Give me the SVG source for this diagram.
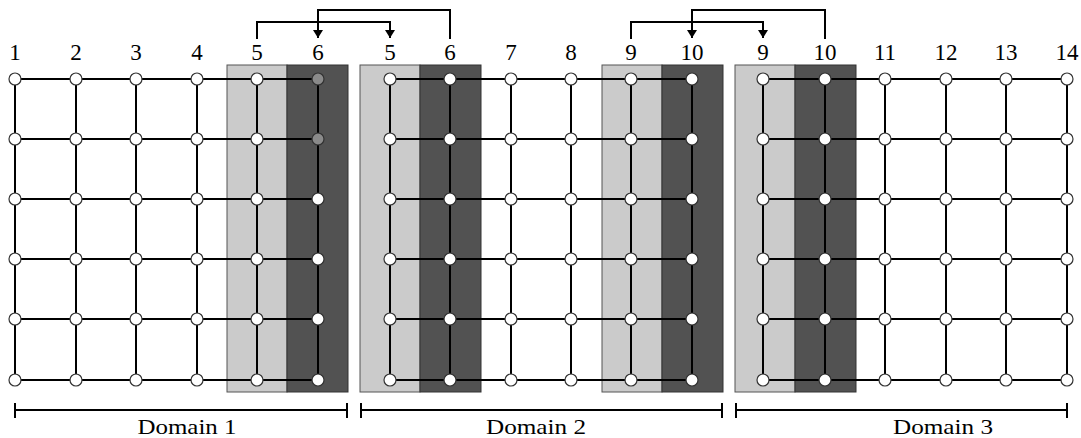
<svg xmlns="http://www.w3.org/2000/svg" width="1081" height="438" viewBox="0 0 1081 438">
  <defs>
    <marker id="arrow" markerWidth="10" markerHeight="10" refX="8" refY="5" orient="auto" markerUnits="userSpaceOnUse">
      <path d="M0,0 L8,5 L0,10 Z" fill="#000"/>
    </marker>
  </defs>
  <rect width="1081" height="438" fill="#fff"/>

  <!-- overlap strips: light = sent column, dark = received column -->
  <g id="strips" stroke-width="1">
    <g fill="#cbcbcb" stroke="#555">
      <rect x="227" y="65" width="60" height="327"/>
      <rect x="360" y="65" width="60" height="327"/>
      <rect x="602" y="65" width="60" height="327"/>
      <rect x="735" y="65" width="60" height="327"/>
    </g>
    <g fill="#525252" stroke="#333">
      <rect x="287" y="65" width="61" height="327"/>
      <rect x="420" y="65" width="61" height="327"/>
      <rect x="662" y="65" width="61" height="327"/>
      <rect x="795" y="65" width="61" height="327"/>
    </g>
  </g>

  <!-- domain 1 mesh -->
  <g id="domain1">
    <path stroke="#000" stroke-width="2" fill="none" d="M15,79H318M15,139H318M15,199H318M15,259H318M15,319H318M15,380H318M15,79V380M76,79V380M136,79V380M197,79V380M257,79V380M318,79V380"/>
    <g fill="#fff" stroke="#333" stroke-width="1.2">
      <circle cx="15" cy="79" r="6"/><circle cx="76" cy="79" r="6"/><circle cx="136" cy="79" r="6"/><circle cx="197" cy="79" r="6"/><circle cx="257" cy="79" r="6"/>
      <circle cx="15" cy="139" r="6"/><circle cx="76" cy="139" r="6"/><circle cx="136" cy="139" r="6"/><circle cx="197" cy="139" r="6"/><circle cx="257" cy="139" r="6"/>
      <circle cx="15" cy="199" r="6"/><circle cx="76" cy="199" r="6"/><circle cx="136" cy="199" r="6"/><circle cx="197" cy="199" r="6"/><circle cx="257" cy="199" r="6"/><circle cx="318" cy="199" r="6"/>
      <circle cx="15" cy="259" r="6"/><circle cx="76" cy="259" r="6"/><circle cx="136" cy="259" r="6"/><circle cx="197" cy="259" r="6"/><circle cx="257" cy="259" r="6"/><circle cx="318" cy="259" r="6"/>
      <circle cx="15" cy="319" r="6"/><circle cx="76" cy="319" r="6"/><circle cx="136" cy="319" r="6"/><circle cx="197" cy="319" r="6"/><circle cx="257" cy="319" r="6"/><circle cx="318" cy="319" r="6"/>
      <circle cx="15" cy="380" r="6"/><circle cx="76" cy="380" r="6"/><circle cx="136" cy="380" r="6"/><circle cx="197" cy="380" r="6"/><circle cx="257" cy="380" r="6"/><circle cx="318" cy="380" r="6"/>
    </g>
    <g fill="#8a8a8a" stroke="#333" stroke-width="1.2">
      <circle cx="318" cy="79" r="6"/>
      <circle cx="318" cy="139" r="6"/>
    </g>
  </g>

  <!-- domain 2 mesh -->
  <g id="domain2">
    <path stroke="#000" stroke-width="2" fill="none" d="M390,79H692M390,139H692M390,199H692M390,259H692M390,319H692M390,380H692M390,79V380M450,79V380M511,79V380M571,79V380M631,79V380M692,79V380"/>
    <g fill="#fff" stroke="#333" stroke-width="1.2">
      <circle cx="390" cy="79" r="6"/><circle cx="450" cy="79" r="6"/><circle cx="511" cy="79" r="6"/><circle cx="571" cy="79" r="6"/><circle cx="631" cy="79" r="6"/><circle cx="692" cy="79" r="6"/>
      <circle cx="390" cy="139" r="6"/><circle cx="450" cy="139" r="6"/><circle cx="511" cy="139" r="6"/><circle cx="571" cy="139" r="6"/><circle cx="631" cy="139" r="6"/><circle cx="692" cy="139" r="6"/>
      <circle cx="390" cy="199" r="6"/><circle cx="450" cy="199" r="6"/><circle cx="511" cy="199" r="6"/><circle cx="571" cy="199" r="6"/><circle cx="631" cy="199" r="6"/><circle cx="692" cy="199" r="6"/>
      <circle cx="390" cy="259" r="6"/><circle cx="450" cy="259" r="6"/><circle cx="511" cy="259" r="6"/><circle cx="571" cy="259" r="6"/><circle cx="631" cy="259" r="6"/><circle cx="692" cy="259" r="6"/>
      <circle cx="390" cy="319" r="6"/><circle cx="450" cy="319" r="6"/><circle cx="511" cy="319" r="6"/><circle cx="571" cy="319" r="6"/><circle cx="631" cy="319" r="6"/><circle cx="692" cy="319" r="6"/>
      <circle cx="390" cy="380" r="6"/><circle cx="450" cy="380" r="6"/><circle cx="511" cy="380" r="6"/><circle cx="571" cy="380" r="6"/><circle cx="631" cy="380" r="6"/><circle cx="692" cy="380" r="6"/>
    </g>
  </g>

  <!-- domain 3 mesh -->
  <g id="domain3">
    <path stroke="#000" stroke-width="2" fill="none" d="M763,79H1067M763,139H1067M763,199H1067M763,259H1067M763,319H1067M763,380H1067M763,79V380M825,79V380M885,79V380M946,79V380M1006,79V380M1067,79V380"/>
    <g fill="#fff" stroke="#333" stroke-width="1.2">
      <circle cx="763" cy="79" r="6"/><circle cx="825" cy="79" r="6"/><circle cx="885" cy="79" r="6"/><circle cx="946" cy="79" r="6"/><circle cx="1006" cy="79" r="6"/><circle cx="1067" cy="79" r="6"/>
      <circle cx="763" cy="139" r="6"/><circle cx="825" cy="139" r="6"/><circle cx="885" cy="139" r="6"/><circle cx="946" cy="139" r="6"/><circle cx="1006" cy="139" r="6"/><circle cx="1067" cy="139" r="6"/>
      <circle cx="763" cy="199" r="6"/><circle cx="825" cy="199" r="6"/><circle cx="885" cy="199" r="6"/><circle cx="946" cy="199" r="6"/><circle cx="1006" cy="199" r="6"/><circle cx="1067" cy="199" r="6"/>
      <circle cx="763" cy="259" r="6"/><circle cx="825" cy="259" r="6"/><circle cx="885" cy="259" r="6"/><circle cx="946" cy="259" r="6"/><circle cx="1006" cy="259" r="6"/><circle cx="1067" cy="259" r="6"/>
      <circle cx="763" cy="319" r="6"/><circle cx="825" cy="319" r="6"/><circle cx="885" cy="319" r="6"/><circle cx="946" cy="319" r="6"/><circle cx="1006" cy="319" r="6"/><circle cx="1067" cy="319" r="6"/>
      <circle cx="763" cy="380" r="6"/><circle cx="825" cy="380" r="6"/><circle cx="885" cy="380" r="6"/><circle cx="946" cy="380" r="6"/><circle cx="1006" cy="380" r="6"/><circle cx="1067" cy="380" r="6"/>
    </g>
  </g>

  <!-- column indices -->
  <g id="labels" fill="#000" text-anchor="middle" font-family="Liberation Serif" font-size="23">
    <text x="15" y="60">1</text>
    <text x="76" y="60">2</text>
    <text x="136" y="60">3</text>
    <text x="197" y="60">4</text>
    <text x="257" y="60">5</text>
    <text x="318" y="60">6</text>
    <text x="390" y="60">5</text>
    <text x="450" y="60">6</text>
    <text x="511" y="60">7</text>
    <text x="571" y="60">8</text>
    <text x="631" y="60">9</text>
    <text x="692" y="60">10</text>
    <text x="763" y="60">9</text>
    <text x="825" y="60">10</text>
    <text x="885" y="60">11</text>
    <text x="946" y="60">12</text>
    <text x="1006" y="60">13</text>
    <text x="1067" y="60">14</text>
  </g>

  <!-- halo exchange connectors -->
  <g id="connectors" stroke="#000" stroke-width="2" fill="none">
    <path d="M257,39V22H390V38" marker-end="url(#arrow)"/>
    <path d="M450,39V10H318V38" marker-end="url(#arrow)"/>
    <path d="M631,39V22H763V38" marker-end="url(#arrow)"/>
    <path d="M825,39V10H692V38" marker-end="url(#arrow)"/>
  </g>

  <!-- domain extents -->
  <g id="extents">
    <path stroke="#000" stroke-width="2" fill="none" d="M15,410H347M15,403V418M347,403V418M361,410H722M361,403V418M722,403V418M736,410H1067M736,403V418M1067,403V418"/>
    <g fill="#000" text-anchor="middle" font-family="Liberation Serif" font-size="22">
      <text x="187" y="434" textLength="99" lengthAdjust="spacingAndGlyphs">Domain 1</text>
      <text x="536" y="434" textLength="100" lengthAdjust="spacingAndGlyphs">Domain 2</text>
      <text x="943" y="434" textLength="100" lengthAdjust="spacingAndGlyphs">Domain 3</text>
    </g>
  </g>
</svg>
